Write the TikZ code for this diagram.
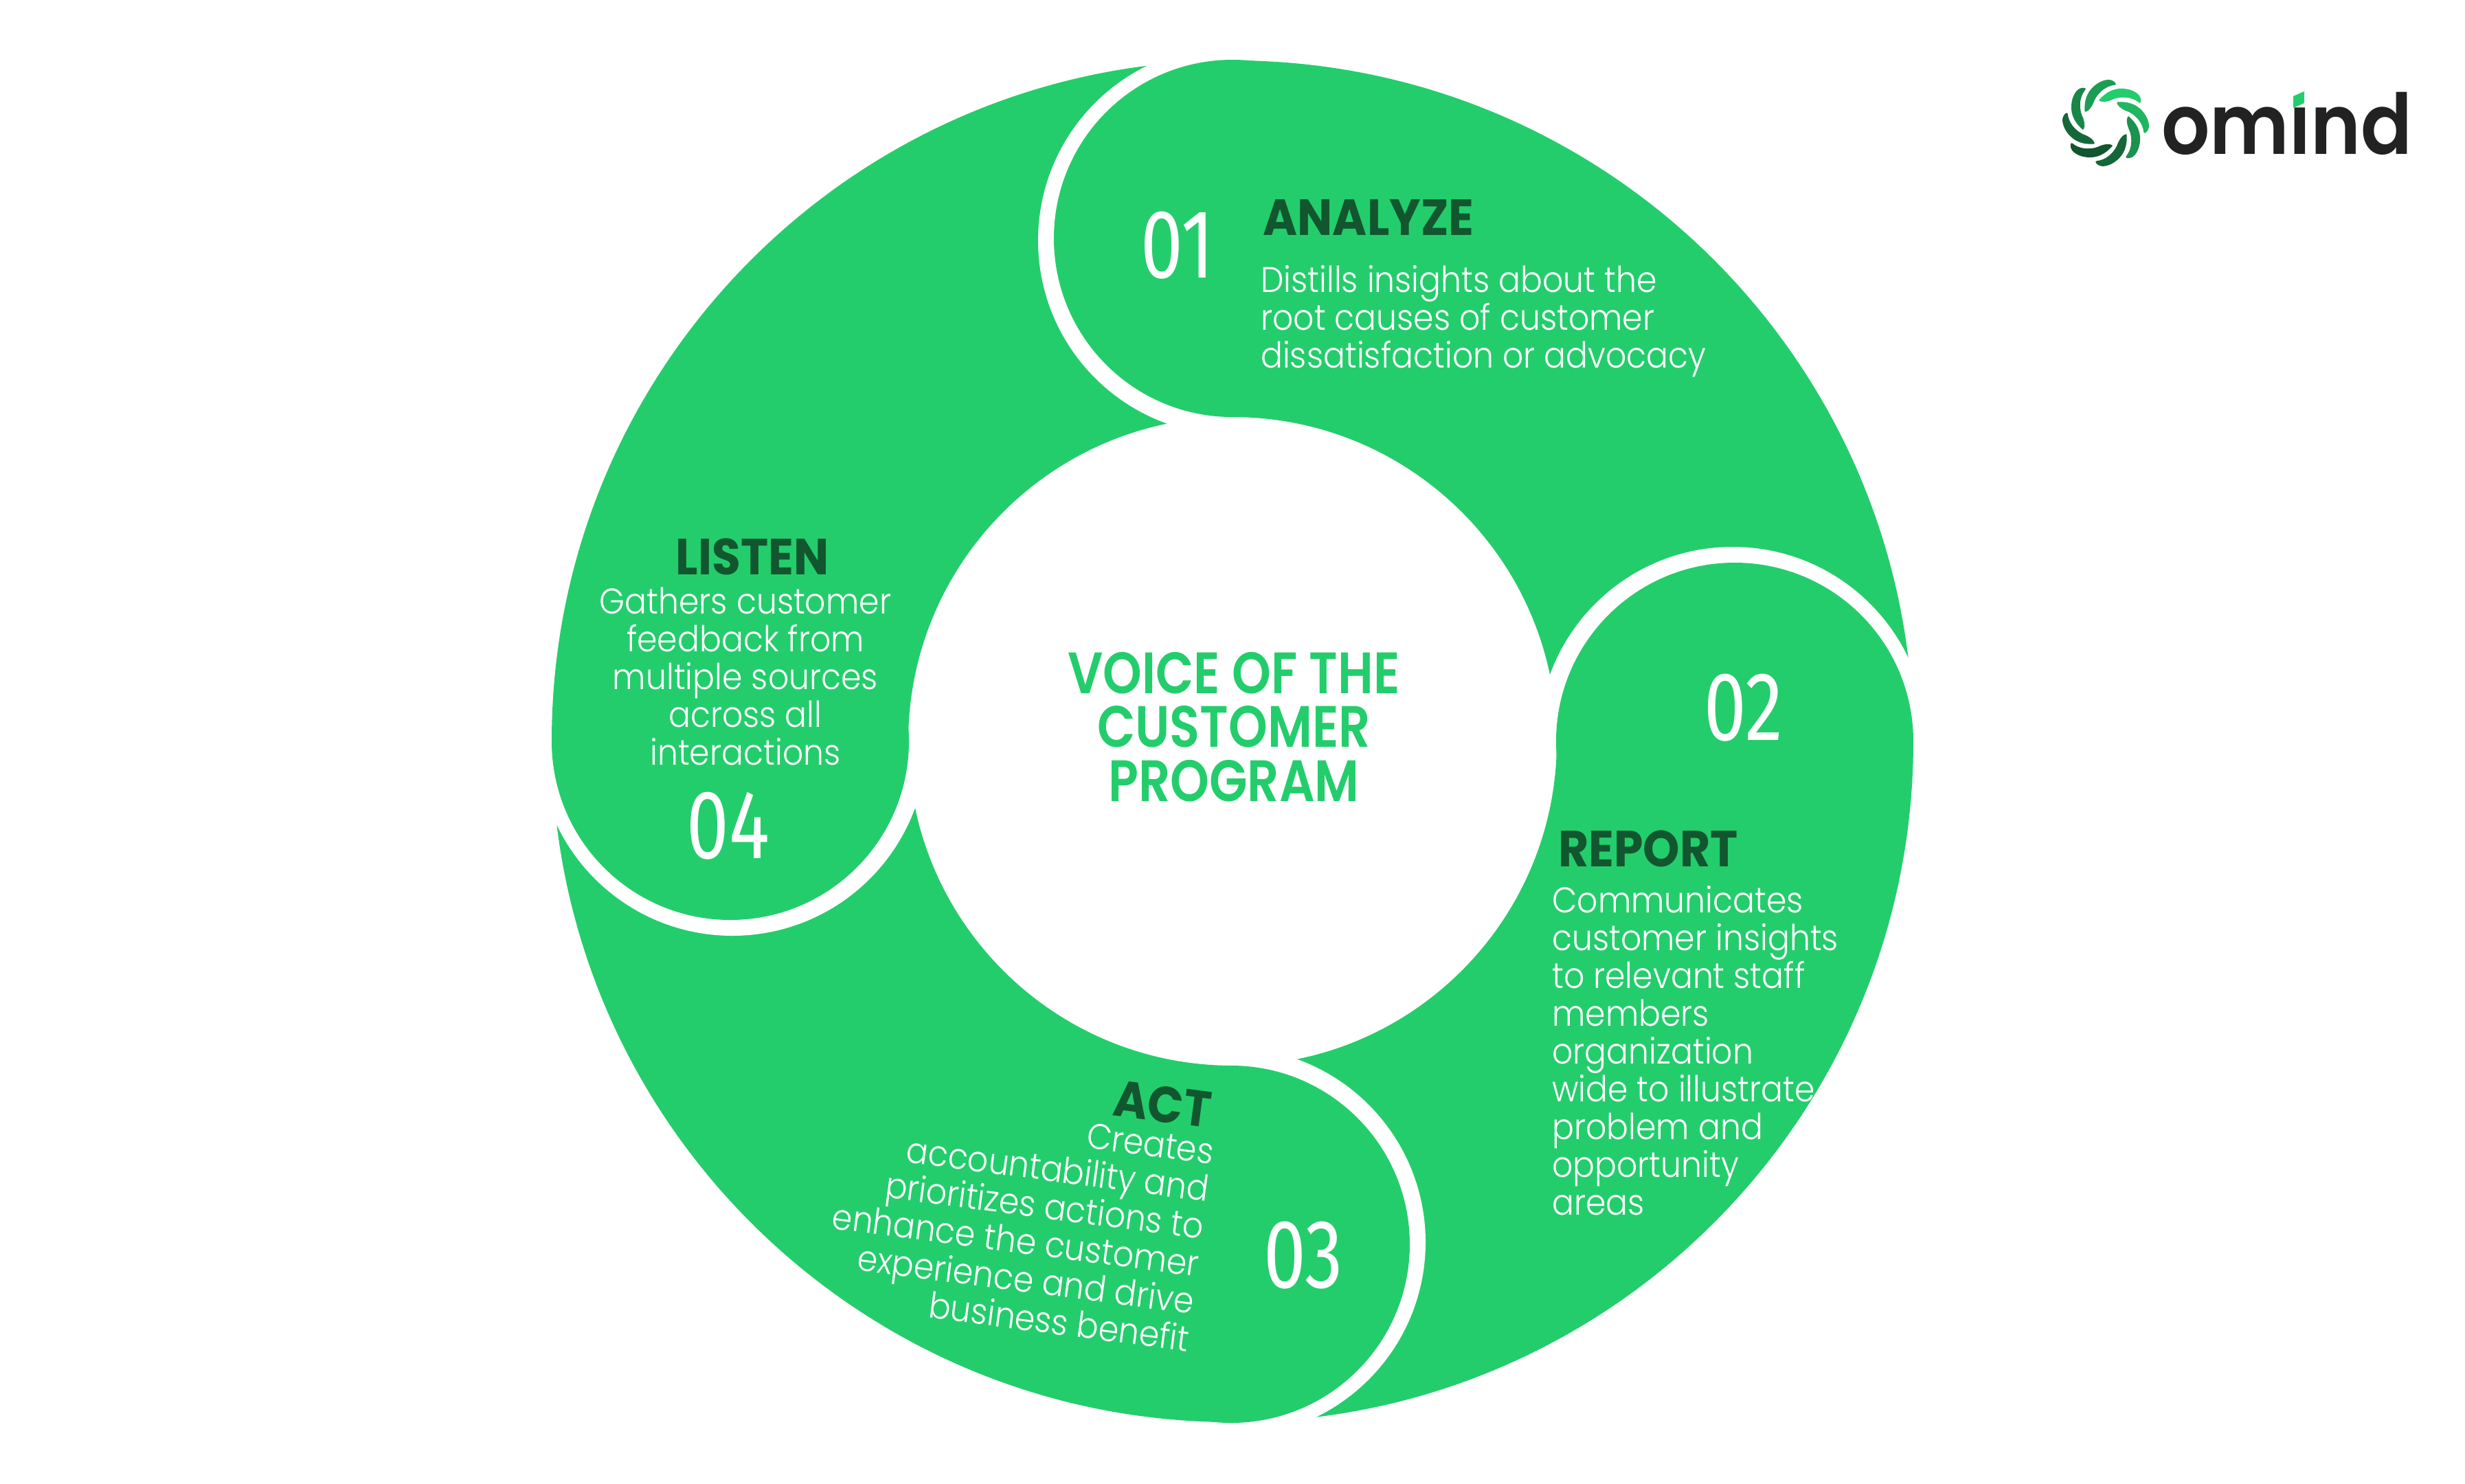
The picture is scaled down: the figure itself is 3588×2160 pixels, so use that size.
\documentclass[tikz,border=0pt]{standalone}
\usepackage{fontspec}
\setmainfont{Poppins}
\newfontfamily\bodyf{Poppins Light}[FakeStretch=0.91]
\newfontfamily\headf{Poppins}[FakeStretch=0.92]
\newfontfamily\titlef{Poppins SemiBold}[FakeStretch=0.85]
\newfontfamily\numf{Fira Sans}[FakeStretch=0.78]
\newfontfamily\logof{Poppins SemiBold}[FakeStretch=0.905]
\definecolor{vgreen}{HTML}{24CD6C}
\definecolor{vdark}{HTML}{11562E}
\definecolor{vink}{HTML}{222222}
\tikzset{
  x=1pt,y=-1pt,
  bodytext/.style={inner sep=0pt,text=white,font=\bodyf\fontsize{52}{55}\selectfont},
  headtext/.style={inner sep=0pt,text=vdark,font=\headf\bfseries\fontsize{74}{74}\selectfont},
  numtext/.style={inner sep=0pt,text=white,font=\numf\fontsize{142}{142}\selectfont},
  titletext/.style={inner sep=0pt,text=vgreen,align=center,font=\titlef\fontsize{85}{78.5}\selectfont},
  petal/.style={line join=round},
}
\newcommand{\vocPetal}[2]{%
  \begin{scope}[shift={(3065,179)},rotate=#1]
    \fill[#2,petal] (-10,-33) .. controls (0,-45) and (12,-51) .. (26,-50)
      .. controls (40,-49) and (50,-42) .. (51,-35) .. controls (52,-30) and (50,-28) .. (48,-30)
      .. controls (38,-38) and (24,-39) .. (12,-35) .. controls (4,-31) and (-6,-29) .. cycle;
  \end{scope}}
\begin{document}
\begin{tikzpicture}
\useasboundingbox (0,0) rectangle (3588,2160);
\fill[white] (0,0) rectangle (3588,2160);
% ring
\fill[vgreen,even odd rule] (1794,1079) circle (991) (1794,1079) circle (472);
% white half disks and caps
\begin{scope}\clip (1400,0) rectangle (1794,700);
  \fill[white] (1794,350) circle (283);\end{scope}
\begin{scope}\clip (2200,700) rectangle (2900,1079);
  \fill[white] (2522,1079) circle (283);\end{scope}
\begin{scope}\clip (1792,1450) rectangle (2200,2160);
  \fill[white] (1792,1808) circle (283);\end{scope}
\begin{scope}\clip (700,1079) rectangle (1400,1500);
  \fill[white] (1066,1079) circle (283);\end{scope}
\fill[vgreen] (1794,347) circle (260);
\fill[vgreen] (2525,1079) circle (260);
\fill[vgreen] (1792,1811) circle (260);
\fill[vgreen] (1063,1079) circle (260);
% centre
\node[titletext] (title) at (1796,1058) {VOICE OF THE\\CUSTOMER\\PROGRAM};
% analyze
\node[numtext] (n1) at (1714,357) {01};
\node[headtext] (h1) at (1992,317) {ANALYZE};
\node[bodytext,align=left,anchor=north west] (b1) at (1835,386) {Distills insights about the\\root causes of customer\\dissatisfaction or advocacy};
% report
\node[numtext] (n2) at (2538,1030) {02};
\node[headtext] (h2) at (2399,1235) {REPORT};
\node[bodytext,align=left,anchor=north west] (b2) at (2259,1289) {Communicates\\customer insights\\to relevant staff\\members\\organization\\wide to illustrate\\problem and\\opportunity\\areas};
% act
\node[numtext] (n3) at (1897,1827) {03};
\node[headtext,rotate=-7.5] (h3) at (1692,1607) {ACT};
\node[bodytext,align=right,anchor=north east,rotate=-7.5] (b3) at (1769,1658) {Creates\\accountability and\\prioritizes actions to\\enhance the customer\\experience and drive\\business benefit};
% listen
\node[numtext] (n4) at (1060,1202) {04};
\node[headtext] (h4) at (1095,810) {LISTEN};
\node[bodytext,align=center,anchor=north] (b4) at (1085,855) {Gathers customer\\feedback from\\multiple sources\\across all\\interactions};
% logo
\vocPetal{0}{vgreen}
\vocPetal{-45}{vgreen!80!vdark}
\vocPetal{-90}{vgreen!50!vdark}
\vocPetal{-135}{vgreen!15!vdark}
\vocPetal{-180}{vdark}
\vocPetal{-225}{vgreen!15!vdark}
\vocPetal{-270}{vgreen!40!vdark}
\vocPetal{-315}{vgreen!60!vdark}
\node[inner sep=0pt,anchor=base west,text=vink,font=\logof\fontsize{122}{122}\selectfont] (logo) at (3146,224) {omind};
\fill[white] (3325,120) rectangle (3365,152);
\fill[vgreen] (3338,140) -- (3354,133) -- (3354,150) -- (3338,157) -- cycle;
\end{tikzpicture}
\end{document}
